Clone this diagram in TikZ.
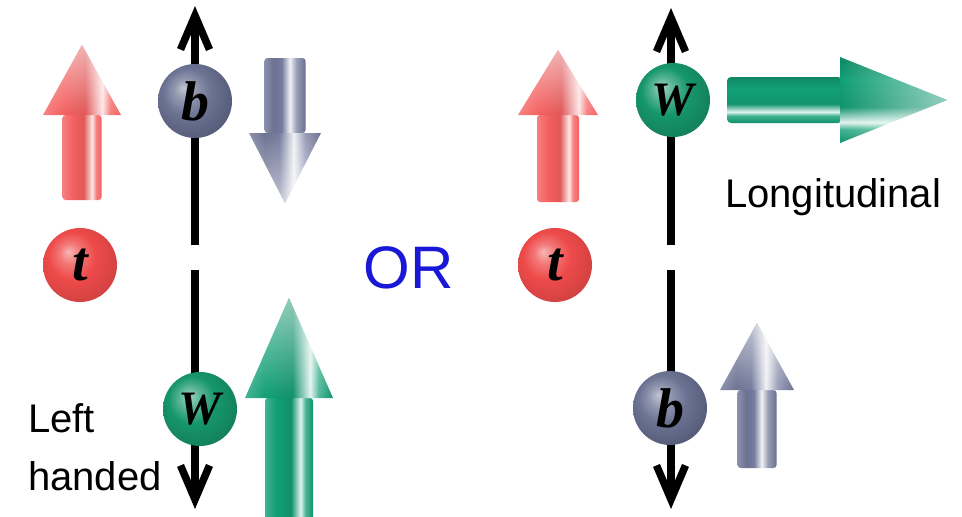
\documentclass[tikz,border=0pt]{standalone}
\usepackage{fontspec}
\setmainfont{Liberation Serif}
\newfontfamily\lblfont{Liberation Sans}
\usetikzlibrary{arrows.meta,fadings,shadings}

\definecolor{tred}{RGB}{238,74,74}
\definecolor{ared}{RGB}{244,96,96}
\definecolor{bgray}{RGB}{100,108,142}
\definecolor{agray}{RGB}{118,124,158}
\definecolor{wgreen}{RGB}{22,150,108}
\definecolor{agreen}{RGB}{18,160,118}
\definecolor{orblue}{RGB}{24,24,214}

% balls
\pgfdeclareradialshading{tballsh}{\pgfpoint{-8bp}{9bp}}{color(0bp)=(white!60!tred); color(7bp)=(tred!75!white); color(16bp)=(tred); color(30bp)=(tred!88!black); color(50bp)=(tred!80!black)}
\pgfdeclareradialshading{bballsh}{\pgfpoint{-8bp}{9bp}}{color(0bp)=(white!60!bgray); color(7bp)=(bgray!70!white); color(16bp)=(bgray!95!white); color(30bp)=(bgray!85!black); color(50bp)=(bgray!75!black)}
\pgfdeclareradialshading{wballsh}{\pgfpoint{-8bp}{9bp}}{color(0bp)=(white!60!wgreen); color(7bp)=(wgreen!70!white); color(16bp)=(wgreen); color(30bp)=(wgreen!85!black); color(50bp)=(wgreen!75!black)}

% cylinder shadings for block arrows
\pgfdeclarehorizontalshading{redcyl}{100bp}{color(0bp)=(ared!80!white); color(25bp)=(ared!80!white); color(38bp)=(ared); color(52bp)=(ared!92!black); color(63bp)=(white!85!ared); color(68bp)=(ared!80!white); color(75bp)=(ared); color(100bp)=(ared)}
\pgfdeclarehorizontalshading{graycyl}{100bp}{color(0bp)=(agray!80!white); color(25bp)=(agray!85!white); color(36bp)=(agray!92!black); color(46bp)=(agray); color(56bp)=(white!90!agray); color(64bp)=(agray!75!white); color(75bp)=(agray!90!black); color(100bp)=(agray)}
\pgfdeclarehorizontalshading{greencyl}{100bp}{color(0bp)=(agreen!80!white); color(25bp)=(agreen!80!white); color(36bp)=(agreen); color(52bp)=(agreen!90!black); color(62bp)=(white!88!agreen); color(67bp)=(agreen!75!white); color(75bp)=(agreen!90!black); color(100bp)=(agreen)}
\pgfdeclareverticalshading{greencylh}{100bp}{color(0bp)=(agreen); color(25bp)=(agreen!90!black); color(33bp)=(agreen!80!white); color(37bp)=(white!88!agreen); color(46bp)=(agreen!92!black); color(62bp)=(agreen); color(75bp)=(agreen!85!black); color(100bp)=(agreen)}

\tikzfading[name=fadeup, top color=transparent!0, bottom color=transparent!100]
\tikzfading[name=fadedown, bottom color=transparent!0, top color=transparent!100]
\tikzfading[name=faderight, right color=transparent!0, left color=transparent!100]

\tikzset{
  blk/.style={line width=7.5pt, black, -{Straight Barb[length=34pt,width=29pt]}},
  ballnode/.style={circle, minimum size=74pt, inner sep=0pt},
  balllbl/.style={font=\bfseries\itshape\fontsize{56}{60}\selectfont},
  balllblW/.style={font=\bfseries\itshape\fontsize{48}{52}\selectfont},
  lbl/.style={font=\lblfont\fontsize{40}{48}\selectfont, inner sep=0pt, anchor=base west},
  tipfade/.style={white, opacity=0.55, path fading=#1},
}

% vertical block arrow: cx, tip y, head base y, shaft end y, head half width, shaft half width, shading, fading
\newcommand\vblockarrow[8]{%
  \shade[shading=#7, rounded corners=3pt] ({#1-#6},{#3}) rectangle ({#1+#6},{#4});
  \shade[shading=#7] ({#1-#5},{#3}) -- ({#1},{#2}) -- ({#1+#5},{#3}) -- cycle;
  \fill[tipfade=#8] ({#1-#5},{#3}) -- ({#1},{#2}) -- ({#1+#5},{#3}) -- cycle;
}

\begin{document}
\begin{tikzpicture}[x=1pt,y=-1pt]
\useasboundingbox (0,0) rectangle (962,517);
\fill[white] (0,0) rectangle (962,517);

% ---------- left panel ----------
\coordinate (LtopTip) at (195,6);
\coordinate (LgapA) at (195,245);
\coordinate (LgapB) at (195,270);
\coordinate (LbotTip) at (195,509);
\draw[blk] (LgapA) -- (LtopTip);
\draw[blk] (LgapB) -- (LbotTip);

\node[ballnode, shading=bballsh] (bL) at (195,101) {};
\node[balllbl] at (bL) {b};
\node[ballnode, shading=tballsh] (tL) at (80,265) {};
\node[balllbl] at (tL) {t};
\node[ballnode, shading=wballsh] (wL) at (200,409) {};
\node[balllblW] at (wL) {W};

% red up arrow (left)
\vblockarrow{82}{45}{115}{200}{39}{19.5}{redcyl}{fadeup}
% gray down arrow (left)
\vblockarrow{285}{203}{133}{58}{36}{20.5}{graycyl}{fadedown}
% green up arrow (left)
\vblockarrow{289}{298}{398}{525}{44}{24}{greencyl}{fadeup}

\node[lbl] (leftlbl) at (28,432) {Left};
\node[lbl] (handedlbl) at (28,490) {handed};

% ---------- OR ----------
\node[font=\lblfont\fontsize{60}{66}\selectfont, text=orblue, inner sep=0pt, anchor=base] (or) at (408.5,288) {OR};

% ---------- right panel ----------
\coordinate (RtopTip) at (671,8);
\coordinate (RgapA) at (671,245);
\coordinate (RgapB) at (671,270);
\coordinate (RbotTip) at (671,509);
\draw[blk] (RgapA) -- (RtopTip);
\draw[blk] (RgapB) -- (RbotTip);

\node[ballnode, shading=wballsh] (wR) at (673,100) {};
\node[balllblW] at (wR) {W};
\node[ballnode, shading=tballsh] (tR) at (555,265) {};
\node[balllbl] at (tR) {t};
\node[ballnode, shading=bballsh] (bR) at (670,408) {};
\node[balllbl] at (bR) {b};

% red up arrow (right)
\vblockarrow{558}{50}{115}{202}{40}{21}{redcyl}{fadeup}
% gray up arrow (right)
\vblockarrow{757}{323}{390}{468}{37}{19.5}{graycyl}{fadeup}

% green horizontal arrow (right)
\shade[shading=greencylh, rounded corners=4pt] (727,77) rectangle (842,123);
\shade[shading=greencylh] (840,57) -- (947,100) -- (840,143) -- cycle;
\fill[tipfade=faderight] (840,57) -- (947,100) -- (840,143) -- cycle;

\node[lbl] (longlbl) at (725,207) {Longitudinal};
\end{tikzpicture}
\end{document}
